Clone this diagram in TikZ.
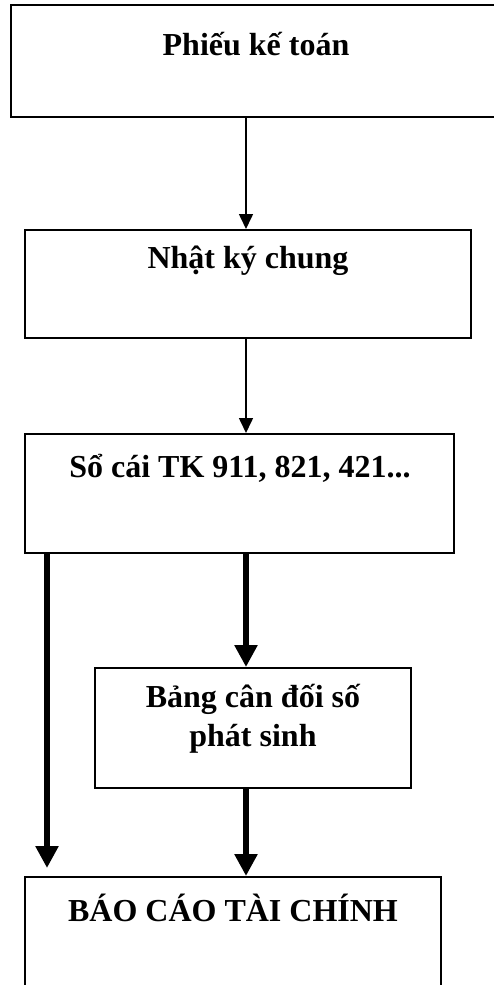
\documentclass[tikz,border=0pt]{standalone}
\usepackage{fontspec}
\setmainfont{Liberation Serif}
\usetikzlibrary{arrows.meta}
\tikzset{
  box/.style={draw=black, line width=2pt, rectangle, inner sep=0pt},
  lbl/.style={font=\fontsize{32}{39}\selectfont\bfseries, align=center, inner sep=0pt},
  thinarrow/.style={line width=1.6pt, -{Triangle[length=15pt,width=14pt]}},
  thickarrow/.style={line width=6pt, -{Triangle[length=22pt,width=22pt]}}
}
\begin{document}
\begin{tikzpicture}[x=1pt,y=-1pt]
\useasboundingbox (0,0) rectangle (494,985);
\fill[white] (0,0) rectangle (494,985);
% boxes
\node[box, minimum width=489pt, minimum height=112pt] (b1) at (255.5,61) {};
\node[box, minimum width=446pt, minimum height=108pt] (b2) at (248,284) {};
\node[box, minimum width=429pt, minimum height=119pt] (b3) at (239.5,493.5) {};
\node[box, minimum width=316pt, minimum height=120pt] (b4) at (253,728) {};
\node[box, minimum width=416pt, minimum height=130pt] (b5) at (233,942) {};
% texts
\node[lbl] (t1) at (256,44) {Phiếu kế toán};
\node[lbl] (t2) at (248,261) {Nhật ký chung};
\node[lbl] (t3) at (240,468) {Sổ cái TK 911, 821, 421...};
\node[lbl] (t4) at (253,719) {Bảng cân đối số\\phát sinh};
\node[lbl] (t5) at (233,908) {BÁO CÁO TÀI CHÍNH};
% connectors
\coordinate (cx) at (246,0);
\coordinate (lend) at (47,868);
\draw[thinarrow] (cx |- b1.south) -- (cx |- b2.north);
\draw[thinarrow] (cx |- b2.south) -- (cx |- b3.north);
\draw[thickarrow] (cx |- b3.south) -- (cx |- b4.north);
\draw[thickarrow] (cx |- b4.south) -- (cx |- b5.north);
\draw[thickarrow] (lend |- b3.south) -- (lend);
\end{tikzpicture}
\end{document}
